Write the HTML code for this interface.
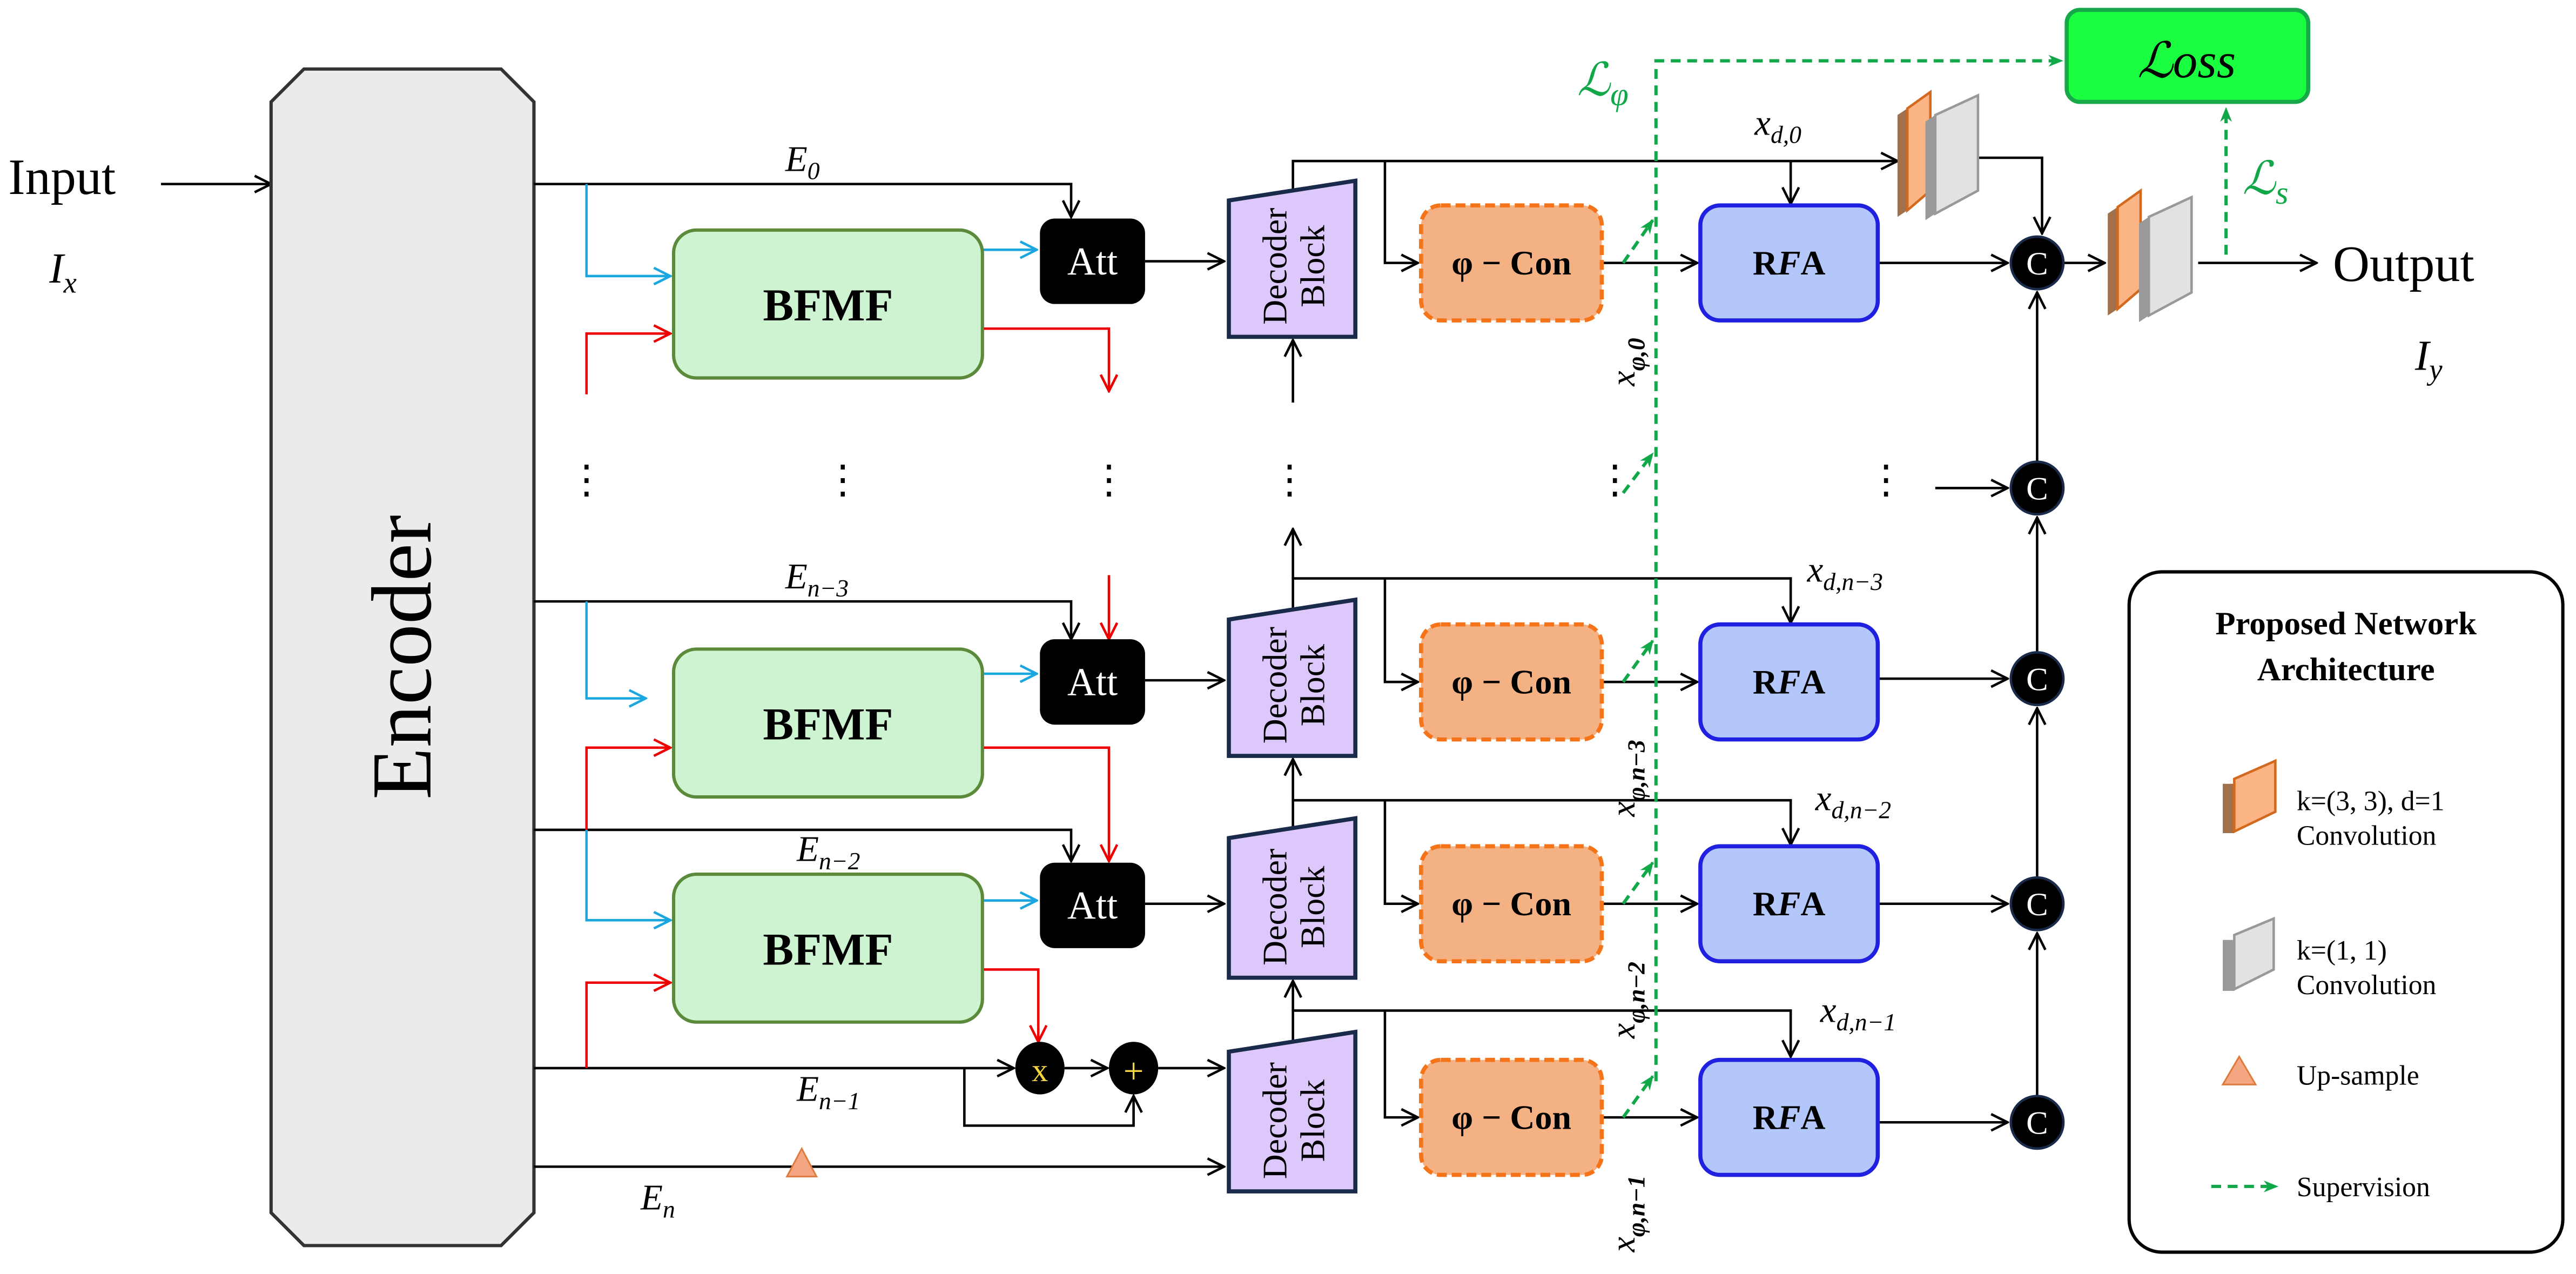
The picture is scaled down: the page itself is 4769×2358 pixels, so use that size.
<!DOCTYPE html>
<html><head><meta charset="utf-8"><style>html,body{margin:0;padding:0;background:#fff}svg{display:block}</style></head><body>
<svg xmlns="http://www.w3.org/2000/svg" width="4769" height="2358" viewBox="0 0 1568 775.3" font-family="Liberation Serif, serif">
<defs>
<marker id="a" viewBox="0 0 12 12" refX="11" refY="6" markerWidth="12" markerHeight="12" markerUnits="userSpaceOnUse" orient="auto"><path d="M1,1 L11,6 L1,11" fill="none" stroke="#000" stroke-width="1.5"/></marker>
<marker id="r" viewBox="0 0 12 12" refX="11" refY="6" markerWidth="12" markerHeight="12" markerUnits="userSpaceOnUse" orient="auto"><path d="M1,1 L11,6 L1,11" fill="none" stroke="#e00" stroke-width="1.5"/></marker>
<marker id="b" viewBox="0 0 12 12" refX="11" refY="6" markerWidth="12" markerHeight="12" markerUnits="userSpaceOnUse" orient="auto"><path d="M1,1 L11,6 L1,11" fill="none" stroke="#1aa7e0" stroke-width="1.5"/></marker>
<marker id="g" viewBox="0 0 10 10" refX="9" refY="5" markerWidth="9" markerHeight="9" markerUnits="userSpaceOnUse" orient="auto"><path d="M0,1 L10,5 L0,9 L3,5z" fill="#12a84a"/></marker>
<g id="oc"><polygon points="0,14 6,10 6,72 0,76" fill="#a0714c"/><polygon points="6,10 20,0 20,60 6,72" fill="#fbb585" stroke="#d2691e" stroke-width="1.5"/></g>
<g id="gc"><polygon points="0,16 6,12 6,72 0,76" fill="#999"/><polygon points="6,12 32,0 32,58 6,72" fill="#e2e2e2" stroke="#999" stroke-width="1.5"/></g>
</defs>

<text x="5" y="118" font-size="31">Input</text>
<text x="30" y="172" font-size="26" font-style="italic">I<tspan font-size="18" dy="6">x</tspan></text>
<line x1="98" y1="112" x2="165" y2="112" stroke="#000" stroke-width="1.5" marker-end="url(#a)"/>

<polygon points="185,42 305,42 325,62 325,738 305,758 185,758 165,738 165,62" fill="#ebebeb" stroke="#333" stroke-width="2"/>
<text transform="translate(262,400) rotate(-90)" text-anchor="middle" font-size="52">Encoder</text>

<g fill="none" stroke="#000" stroke-width="1.5">
<polyline points="325,112 652,112 652,132" marker-end="url(#a)"/>
<polyline points="325,366 652,366 652,389" marker-end="url(#a)"/>
<polyline points="325,505 652,505 652,524" marker-end="url(#a)"/>
<line x1="325" y1="650" x2="617" y2="650" marker-end="url(#a)"/>
<polyline points="587,650 587,685 690,685 690,667" marker-end="url(#a)"/>
<line x1="648" y1="650" x2="674" y2="650" marker-end="url(#a)"/>
<line x1="705" y1="650" x2="745" y2="650" marker-end="url(#a)"/>
<line x1="325" y1="710" x2="745" y2="710" marker-end="url(#a)"/>
<line x1="697" y1="159" x2="745" y2="159" marker-end="url(#a)"/>
<line x1="697" y1="414" x2="745" y2="414" marker-end="url(#a)"/>
<line x1="697" y1="550" x2="745" y2="550" marker-end="url(#a)"/>
<polyline points="787,116 787,98 1155,98" marker-end="url(#a)"/>
<line x1="1090" y1="98" x2="1090" y2="124" marker-end="url(#a)"/>
<polyline points="843,98 843,160 863,160" marker-end="url(#a)"/>
<line x1="787" y1="245" x2="787" y2="207" marker-end="url(#a)"/>
<polyline points="787,371 787,352 1090,352 1090,379" marker-end="url(#a)"/>
<polyline points="843,352 843,415 863,415" marker-end="url(#a)"/>
<line x1="787" y1="352" x2="787" y2="322" marker-end="url(#a)"/>
<polyline points="787,504 787,487 1090,487 1090,514" marker-end="url(#a)"/>
<polyline points="843,487 843,550 863,550" marker-end="url(#a)"/>
<line x1="787" y1="487" x2="787" y2="462" marker-end="url(#a)"/>
<polyline points="787,634 787,615 1090,615 1090,643" marker-end="url(#a)"/>
<polyline points="843,615 843,680 863,680" marker-end="url(#a)"/>
<line x1="787" y1="615" x2="787" y2="597" marker-end="url(#a)"/>
<line x1="975" y1="160" x2="1033" y2="160" marker-end="url(#a)"/>
<line x1="975" y1="415" x2="1033" y2="415" marker-end="url(#a)"/>
<line x1="975" y1="550" x2="1033" y2="550" marker-end="url(#a)"/>
<line x1="975" y1="680" x2="1033" y2="680" marker-end="url(#a)"/>
<line x1="1143" y1="160" x2="1222" y2="160" marker-end="url(#a)"/>
<line x1="1143" y1="413" x2="1222" y2="413" marker-end="url(#a)"/>
<line x1="1143" y1="550" x2="1222" y2="550" marker-end="url(#a)"/>
<line x1="1143" y1="683" x2="1222" y2="683" marker-end="url(#a)"/>
<line x1="1178" y1="297" x2="1222" y2="297" marker-end="url(#a)"/>
<line x1="1240" y1="667" x2="1240" y2="568" marker-end="url(#a)"/>
<line x1="1240" y1="534" x2="1240" y2="431" marker-end="url(#a)"/>
<line x1="1240" y1="397" x2="1240" y2="315" marker-end="url(#a)"/>
<line x1="1240" y1="281" x2="1240" y2="178" marker-end="url(#a)"/>
<polyline points="1202,96 1243,96 1243,142" marker-end="url(#a)"/>
<line x1="1256" y1="160" x2="1281" y2="160" marker-end="url(#a)"/>
<line x1="1338" y1="160" x2="1410" y2="160" marker-end="url(#a)"/>
</g>

<g fill="none" stroke-width="1.5">
<polyline points="357,112 357,168 408,168" stroke="#1aa7e0" marker-end="url(#b)"/>
<polyline points="357,366 357,425 393,425" stroke="#1aa7e0" marker-end="url(#b)"/>
<polyline points="357,505 357,560 408,560" stroke="#1aa7e0" marker-end="url(#b)"/>
<line x1="598" y1="152" x2="631" y2="152" stroke="#1aa7e0" marker-end="url(#b)"/>
<line x1="598" y1="410" x2="631" y2="410" stroke="#1aa7e0" marker-end="url(#b)"/>
<line x1="598" y1="548" x2="631" y2="548" stroke="#1aa7e0" marker-end="url(#b)"/>
<polyline points="357,240 357,203 408,203" stroke="#e00" marker-end="url(#r)"/>
<polyline points="357,505 357,455 408,455" stroke="#e00" marker-end="url(#r)"/>
<polyline points="357,650 357,598 408,598" stroke="#e00" marker-end="url(#r)"/>
<polyline points="598,200 675,200 675,238" stroke="#e00" marker-end="url(#r)"/>
<polyline points="598,455 675,455 675,524" stroke="#e00" marker-end="url(#r)"/>
<line x1="675" y1="350" x2="675" y2="389" stroke="#e00" marker-end="url(#r)"/>
<polyline points="598,590 632,590 632,634" stroke="#e00" marker-end="url(#r)"/>
</g>

<g fill="#cdf3d0" stroke="#5a8a3a" stroke-width="2">
<rect x="410" y="140" width="188" height="90" rx="14"/>
<rect x="410" y="395" width="188" height="90" rx="14"/>
<rect x="410" y="532" width="188" height="90" rx="14"/>
</g>
<g font-size="28" font-weight="bold" text-anchor="middle">
<text x="504" y="195">BFMF</text><text x="504" y="450">BFMF</text><text x="504" y="587">BFMF</text>
</g>
<g fill="#000"><rect x="633" y="133" width="64" height="52" rx="9"/><rect x="633" y="389" width="64" height="52" rx="9"/><rect x="633" y="525" width="64" height="52" rx="9"/></g>
<g fill="#fff" font-size="24" text-anchor="middle"><text x="665" y="167">Att</text><text x="665" y="423">Att</text><text x="665" y="559">Att</text></g>
<ellipse cx="633" cy="650" rx="15" ry="16" fill="#000"/><text x="633" y="658" fill="#f5d442" font-size="20" text-anchor="middle">x</text>
<ellipse cx="690" cy="650" rx="15" ry="16" fill="#000"/><text x="690" y="659" fill="#f5d442" font-size="22" text-anchor="middle">+</text>
<polygon points="488,699 497,716 479,716" fill="#f4a582" stroke="#e07a3c" stroke-width="1"/>

<g fill="#dcc8fa" stroke="#1a2a4a" stroke-width="2.5">
<polygon points="748,122 825,110 825,205 748,205"/>
<polygon points="748,377 825,365 825,460 748,460"/>
<polygon points="748,510 825,498 825,595 748,595"/>
<polygon points="748,640 825,628 825,725 748,725"/>
</g>
<g font-size="21" text-anchor="middle">
<text transform="translate(786,162) rotate(-90)"><tspan x="0" y="-3">Decoder</tspan><tspan x="0" y="20">Block</tspan></text>
<text transform="translate(786,417) rotate(-90)"><tspan x="0" y="-3">Decoder</tspan><tspan x="0" y="20">Block</tspan></text>
<text transform="translate(786,552) rotate(-90)"><tspan x="0" y="-3">Decoder</tspan><tspan x="0" y="20">Block</tspan></text>
<text transform="translate(786,682) rotate(-90)"><tspan x="0" y="-3">Decoder</tspan><tspan x="0" y="20">Block</tspan></text>
</g>

<g fill="#f4b183" stroke="#f5741a" stroke-width="2.5" stroke-dasharray="6,3">
<rect x="865" y="125" width="110" height="70" rx="12"/>
<rect x="865" y="380" width="110" height="70" rx="12"/>
<rect x="865" y="515" width="110" height="70" rx="12"/>
<rect x="865" y="645" width="110" height="70" rx="12"/>
</g>
<g font-size="21" font-weight="bold" text-anchor="middle">
<text x="920" y="167">φ − Con</text><text x="920" y="422">φ − Con</text><text x="920" y="557">φ − Con</text><text x="920" y="687">φ − Con</text>
</g>
<g fill="#b4c7fb" stroke="#2020e0" stroke-width="2.5">
<rect x="1035" y="125" width="108" height="70" rx="12"/>
<rect x="1035" y="380" width="108" height="70" rx="12"/>
<rect x="1035" y="515" width="108" height="70" rx="12"/>
<rect x="1035" y="645" width="108" height="70" rx="12"/>
</g>
<g font-size="21" font-weight="bold" text-anchor="middle">
<text x="1089" y="167">R<tspan font-style="italic">F</tspan>A</text><text x="1089" y="422">R<tspan font-style="italic">F</tspan>A</text><text x="1089" y="557">R<tspan font-style="italic">F</tspan>A</text><text x="1089" y="687">R<tspan font-style="italic">F</tspan>A</text>
</g>
<g fill="#000" stroke="#1a2a4a" stroke-width="1.5">
<circle cx="1240" cy="160" r="16"/><circle cx="1240" cy="297" r="16"/><circle cx="1240" cy="413" r="16"/><circle cx="1240" cy="550" r="16"/><circle cx="1240" cy="683" r="16"/>
</g>
<g fill="#fff" font-size="20" text-anchor="middle">
<text x="1240" y="167">C</text><text x="1240" y="304">C</text><text x="1240" y="420">C</text><text x="1240" y="557">C</text><text x="1240" y="690">C</text>
</g>

<use href="#oc" x="1155" y="56"/><use href="#gc" x="1172" y="58"/>
<use href="#oc" x="1283" y="116"/><use href="#gc" x="1302" y="120"/>

<text x="1420" y="171" font-size="31">Output</text>
<text x="1470" y="225" font-size="26" font-style="italic">I<tspan font-size="18" dy="6">y</tspan></text>

<rect x="1258" y="6" width="147" height="56" rx="8" fill="#1aff3f" stroke="#17a84a" stroke-width="2.5"/>
<text x="1331" y="47" font-size="30" text-anchor="middle" font-style="italic">ℒoss</text>
<g fill="none" stroke="#12a84a" stroke-width="2" stroke-dasharray="6,4">
<line x1="1355" y1="155" x2="1355" y2="66" marker-end="url(#g)"/>
<polyline points="1008,658 1008,37 1255,37" marker-end="url(#g)"/>
<line x1="988" y1="160" x2="1006" y2="134" marker-end="url(#g)"/>
<line x1="988" y1="300" x2="1006" y2="276" marker-end="url(#g)"/>
<line x1="988" y1="415" x2="1006" y2="390" marker-end="url(#g)"/>
<line x1="988" y1="550" x2="1006" y2="525" marker-end="url(#g)"/>
<line x1="988" y1="680" x2="1006" y2="655" marker-end="url(#g)"/>
</g>
<text x="960" y="58" font-size="28" fill="#12a84a" font-style="italic">ℒ<tspan font-size="20" dy="6">φ</tspan></text>
<text x="1365" y="118" font-size="28" fill="#12a84a" font-style="italic">ℒ<tspan font-size="20" dy="6">s</tspan></text>

<g font-size="22" font-style="italic">
<text x="478" y="104">E<tspan font-size="15" dy="5">0</tspan></text>
<text x="478" y="358">E<tspan font-size="15" dy="5">n−3</tspan></text>
<text x="485" y="524">E<tspan font-size="15" dy="5">n−2</tspan></text>
<text x="485" y="670">E<tspan font-size="15" dy="5">n−1</tspan></text>
<text x="390" y="736">E<tspan font-size="15" dy="5">n</tspan></text>
<text x="1068" y="82">x<tspan font-size="15" dy="5">d,0</tspan></text>
<text x="1100" y="354">x<tspan font-size="15" dy="5">d,n−3</tspan></text>
<text x="1105" y="493">x<tspan font-size="15" dy="5">d,n−2</tspan></text>
<text x="1108" y="622">x<tspan font-size="15" dy="5">d,n−1</tspan></text>
</g>
<g font-size="21" font-style="italic">
<text transform="translate(995,235) rotate(-90)">x<tspan font-size="15" dy="6" font-weight="bold">φ,0</tspan></text>
<text transform="translate(995,497) rotate(-90)">x<tspan font-size="15" dy="6" font-weight="bold">φ,n−3</tspan></text>
<text transform="translate(995,632) rotate(-90)">x<tspan font-size="15" dy="6" font-weight="bold">φ,n−2</tspan></text>
<text transform="translate(995,762) rotate(-90)">x<tspan font-size="15" dy="6" font-weight="bold">φ,n−1</tspan></text>
</g>
<g font-size="24" text-anchor="middle">
<text x="357" y="300">⋮</text><text x="513" y="300">⋮</text><text x="675" y="300">⋮</text><text x="785" y="300">⋮</text><text x="983" y="300">⋮</text><text x="1148" y="300">⋮</text>
</g>

<rect x="1296" y="348" width="264" height="414" rx="20" fill="#fff" stroke="#000" stroke-width="2"/>
<text x="1428" y="386" font-size="20" font-weight="bold" text-anchor="middle">Proposed Network</text>
<text x="1428" y="414" font-size="20" font-weight="bold" text-anchor="middle">Architecture</text>
<polygon points="1353,477 1360,474 1385,463 1378,466" fill="#a0714c"/>
<rect x="1353" y="477" width="7" height="30" fill="#a0714c"/>
<polygon points="1360,474 1385,463 1385,494 1360,506" fill="#fbb585" stroke="#d2691e" stroke-width="1.5"/>
<polygon points="1353,572 1360,569 1384,559 1377,562" fill="#bbb"/>
<rect x="1353" y="572" width="7" height="31" fill="#999"/>
<polygon points="1360,569 1384,559 1384,590 1360,602" fill="#e2e2e2" stroke="#999" stroke-width="1.5"/>
<text x="1398" y="493" font-size="17">k=(3, 3), d=1</text>
<text x="1398" y="514" font-size="17">Convolution</text>
<text x="1398" y="584" font-size="17">k=(1, 1)</text>
<text x="1398" y="605" font-size="17">Convolution</text>
<polygon points="1363,643 1373,660 1353,660" fill="#f4a582" stroke="#e07a3c" stroke-width="1"/>
<text x="1398" y="660" font-size="17">Up-sample</text>
<line x1="1346" y1="722" x2="1386" y2="722" stroke="#12a84a" stroke-width="2" stroke-dasharray="6,4" marker-end="url(#g)"/>
<text x="1398" y="728" font-size="17">Supervision</text>
</svg>
</body></html>
